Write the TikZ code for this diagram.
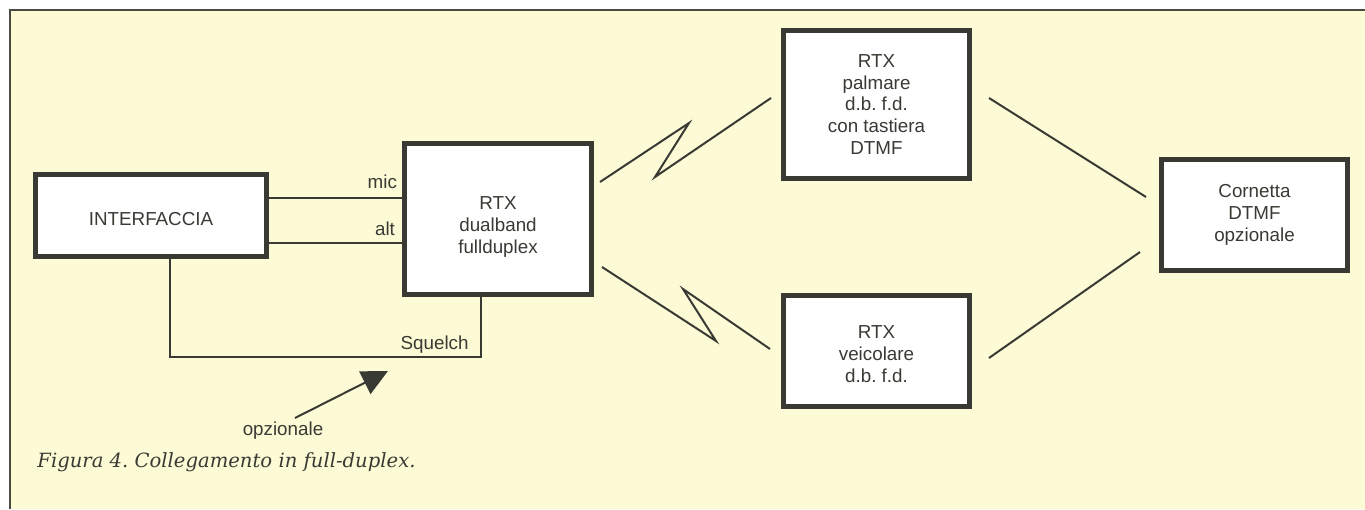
\documentclass[tikz,border=0pt]{standalone}
\usepackage{fontspec}
\setmainfont{Liberation Sans}
\newfontfamily\capfont{DejaVu Serif}
\usetikzlibrary{arrows.meta,calc}
\definecolor{bgyel}{HTML}{FCFBD6}
\definecolor{ink}{HTML}{3A3A34}
\definecolor{frameink}{HTML}{4A4A42}
\frenchspacing
\begin{document}
\begin{tikzpicture}[x=0.5pt,y=-0.5pt,
  txt/.style={font=\fontsize{9.4}{10.9}\selectfont\frenchspacing, text=ink},
  box/.style={draw=ink, fill=white, line width=2.3pt, inner sep=0pt, outer sep=0pt,
    align=center, txt},
  wire/.style={draw=ink, line width=1pt},
  lbl/.style={txt, inner sep=0pt}]
% page and frame
\useasboundingbox (0,0) rectangle (1365,509);
\fill[white] (0,0) rectangle (1365,509);
\fill[bgyel] (10,10) rectangle (1365,509);
\draw[frameink, line width=1.4pt] (10,509) -- (10,10) -- (1365,10);
% boxes
\node[box, minimum width=115.7pt, minimum height=41.2pt,
  label={[txt, yshift=-2pt]center:INTERFACCIA}] (iface) at (151,215.5) {};
\node[box, minimum width=93.7pt, minimum height=75.7pt,
  label={[txt, align=center, yshift=-4pt]center:RTX\\dualband\\fullduplex}] (rtx1) at (498,219) {};
\node[box, minimum width=93.2pt, minimum height=74.2pt] (palm) at (876.5,104.5) {RTX\\palmare\\d.b. f.d.\\con tastiera\\DTMF};
\node[box, minimum width=93.2pt, minimum height=55.7pt,
  label={[txt, align=center, yshift=-1.5pt]center:RTX\\veicolare\\d.b. f.d.}] (veic) at (876.5,351) {};
\node[box, minimum width=93.2pt, minimum height=55.7pt] (corn) at (1254.5,215) {Cornetta\\DTMF\\opzionale};
% wires between interface and RTX
\coordinate (micy) at (0,198);
\coordinate (alty) at (0,243);
\coordinate (sqL) at (170,357);
\coordinate (sqR) at (481,357);
\draw[wire] (iface.east |- micy) -- (rtx1.west |- micy);
\draw[wire] (iface.east |- alty) -- (rtx1.west |- alty);
\draw[wire] (iface.south -| sqL) -- (sqL) -- (sqR) -- (rtx1.south -| sqR);
\node[lbl, anchor=base east, xshift=-3.5pt, yshift=5pt] (miclbl) at (rtx1.west |- micy) {mic};
\node[lbl, anchor=base east, xshift=-4.5pt, yshift=4pt] (altlbl) at (rtx1.west |- alty) {alt};
\node[lbl, anchor=base east, xshift=-6pt, yshift=3.75pt] (sqlbl) at (sqR) {Squelch};
% optional arrow
\node[lbl] (opz) at (283,431) {opzionale};
\coordinate (arrS) at (295,418);
\coordinate (arrT) at (388,371);
\draw[wire, -{Triangle[length=13pt, width=12.5pt]}, fill=ink] (arrS) -- (arrT);
% radio links (zigzags)
\coordinate (u1) at (600,182);
\coordinate (u2) at (689,123);
\coordinate (u3) at (655,177);
\coordinate (u4) at (771,98);
\draw[wire, line join=miter] (u1) -- (u2) -- (u3) -- (u4);
\coordinate (l1) at (602,267);
\coordinate (l2) at (716,341);
\coordinate (l3) at (683,289);
\coordinate (l4) at (770,349);
\draw[wire, line join=miter] (l1) -- (l2) -- (l3) -- (l4);
% links to handset
\coordinate (p1) at (989,98);
\coordinate (p2) at (1146,197);
\coordinate (v1) at (989,358);
\coordinate (v2) at (1140,252);
\draw[wire] (p1) -- (p2);
\draw[wire] (v1) -- (v2);
% caption
\node[anchor=base west, inner sep=0pt, text=ink,
  font=\capfont\itshape\fontsize{9.8}{11}\selectfont\frenchspacing] (cap) at (37,467) {Figura 4. Collegamento in full-duplex.};
\end{tikzpicture}
\end{document}
